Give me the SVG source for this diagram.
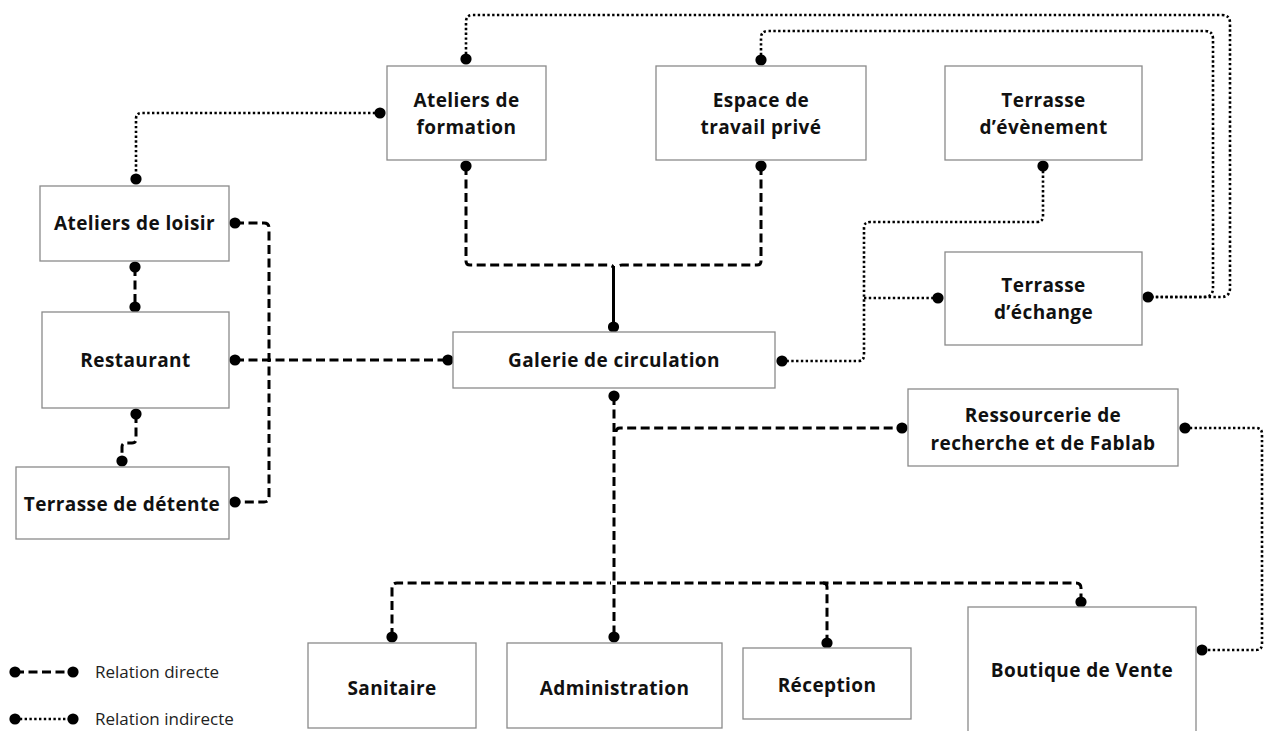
<svg xmlns="http://www.w3.org/2000/svg" width="1266" height="731" viewBox="0 0 1266 731">
<style>
.box{fill:#fff;stroke:#8a8a8a;stroke-width:1.3}
.lbl{font-family:"Open Sans","Noto Sans",sans-serif;font-weight:700;font-size:19px;letter-spacing:0.4px;fill:#111;text-anchor:middle}
.leg{font-family:"Open Sans","Noto Sans",sans-serif;font-weight:400;font-size:17px;fill:#222}
.direct{fill:none;stroke:#000;stroke-width:3;stroke-dasharray:9 4.5}
.solid{fill:none;stroke:#000;stroke-width:3}
.indirect{fill:none;stroke:#000;stroke-width:2.6;stroke-dasharray:2.4 2.4}
</style>
<defs>
<marker id="dot" viewBox="0 0 12 12" refX="6" refY="6" markerWidth="12" markerHeight="12" markerUnits="userSpaceOnUse" orient="auto">
<circle cx="6" cy="6" r="5.6" fill="#000" stroke="none"/>
</marker>
</defs>
<rect width="1266" height="731" fill="#fff"/>

<g id="connectors">
<path class="direct" d="M466,166 V261 Q466,265 470,265 H610 Q613,265 613,268" marker-start="url(#dot)"/>
<path class="direct" d="M761,166 V261 Q761,265 757,265 H622 Q618,265 617,268" marker-start="url(#dot)"/>
<path class="solid" d="M613.5,266 V327" marker-end="url(#dot)"/>
<path class="direct" d="M135,267 V307" marker-start="url(#dot)" marker-end="url(#dot)"/>
<path class="direct" d="M136,414 V439 Q136,443 132,443 H126 Q122,443 122,447 V461" marker-start="url(#dot)" marker-end="url(#dot)"/>
<path class="direct" d="M235,223 H264 Q269,223 269,228 V497 Q269,502 264,502 H235" marker-start="url(#dot)" marker-end="url(#dot)"/>
<path class="direct" d="M235,360 H448" marker-start="url(#dot)" marker-end="url(#dot)"/>
<path class="direct" d="M614,396 V637" marker-start="url(#dot)" marker-end="url(#dot)"/>
<path class="direct" d="M616,432 Q616,428 620,428 H902" marker-end="url(#dot)"/>
<path class="direct" d="M392,637 V588 Q392,583 397,583 H611" marker-start="url(#dot)"/>
<path class="direct" d="M617,583 H1076 Q1081,583 1081,588 V602" marker-end="url(#dot)"/>
<path class="direct" d="M823,583 Q827,583 827,587 V643" marker-end="url(#dot)"/>

<path class="indirect" d="M380,113 H142 Q136,113 136,119 V179" marker-start="url(#dot)" marker-end="url(#dot)"/>
<path class="indirect" d="M466,59 V22 Q466,15 473,15 H1222 Q1230,15 1230,23 V288 Q1230,297 1221,297 H1148" marker-start="url(#dot)" marker-end="url(#dot)"/>
<path class="indirect" d="M761,60 V38 Q761,31 768,31 H1205 Q1213,31 1213,39 V288 Q1213,297 1204,297 H1152" marker-start="url(#dot)"/>
<path class="indirect" d="M1043,166 V216 Q1043,222 1037,222 H870 Q864,222 864,228 V355 Q864,361 858,361 H782" marker-start="url(#dot)" marker-end="url(#dot)"/>
<path class="indirect" d="M864,298 H938" marker-end="url(#dot)"/>
<path class="indirect" d="M1185,428 H1256 Q1262,428 1262,434 V644 Q1262,650 1256,650 H1202" marker-start="url(#dot)" marker-end="url(#dot)"/>
</g>

<g id="node-ateliers-formation"><rect class="box" x="387" y="66" width="159" height="94"/><text class="lbl" x="466.5" y="107">Ateliers de</text><text class="lbl" x="466.5" y="134">formation</text></g>
<g id="node-espace-travail"><rect class="box" x="656" y="66" width="210" height="94"/><text class="lbl" x="761" y="107">Espace de</text><text class="lbl" x="761" y="134">travail privé</text></g>
<g id="node-terrasse-evenement"><rect class="box" x="945" y="66" width="197" height="94"/><text class="lbl" x="1043.5" y="107">Terrasse</text><text class="lbl" x="1043.5" y="134">d’évènement</text></g>
<g id="node-terrasse-echange"><rect class="box" x="945" y="252" width="197" height="93"/><text class="lbl" x="1043.5" y="292">Terrasse</text><text class="lbl" x="1043.5" y="319">d’échange</text></g>
<g id="node-ateliers-loisir"><rect class="box" x="40" y="186" width="189" height="75"/><text class="lbl" x="134.5" y="230">Ateliers de loisir</text></g>
<g id="node-restaurant"><rect class="box" x="42" y="312" width="187" height="96"/><text class="lbl" x="135.5" y="367">Restaurant</text></g>
<g id="node-terrasse-detente"><rect class="box" x="16" y="467" width="213" height="72"/><text class="lbl" x="122" y="511">Terrasse de détente</text></g>
<g id="node-galerie"><rect class="box" x="453" y="332" width="322" height="56"/><text class="lbl" x="614" y="367">Galerie de circulation</text></g>
<g id="node-ressourcerie"><rect class="box" x="908" y="389" width="270" height="77"/><text class="lbl" x="1043" y="422">Ressourcerie de</text><text class="lbl" x="1043" y="450">recherche et de Fablab</text></g>
<g id="node-sanitaire"><rect class="box" x="308" y="643" width="168" height="85"/><text class="lbl" x="392" y="695">Sanitaire</text></g>
<g id="node-administration"><rect class="box" x="507" y="643" width="215" height="85"/><text class="lbl" x="614.5" y="695">Administration</text></g>
<g id="node-reception"><rect class="box" x="743" y="648" width="168" height="71"/><text class="lbl" x="827" y="692">Réception</text></g>
<g id="node-boutique"><rect class="box" x="968" y="607" width="228" height="130"/><text class="lbl" x="1082" y="677">Boutique de Vente</text></g>

<g id="legend">
<path class="direct" d="M15,672 H73" marker-start="url(#dot)" marker-end="url(#dot)"/>
<text class="leg" x="95" y="678">Relation directe</text>
<path class="indirect" d="M15,719 H73" marker-start="url(#dot)" marker-end="url(#dot)"/>
<text class="leg" x="95" y="725">Relation indirecte</text>
</g>
</svg>
